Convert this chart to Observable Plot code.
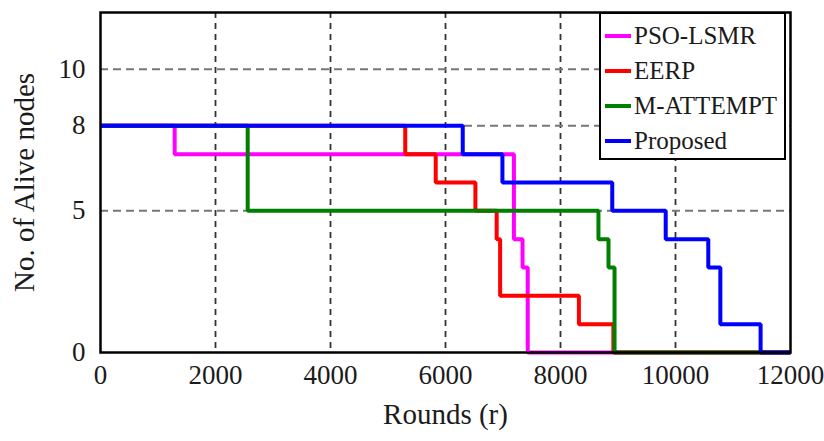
<!DOCTYPE html>
<html>
<head>
<meta charset="utf-8">
<script src="https://cdn.jsdelivr.net/npm/d3@7"></script>
<script src="https://cdn.jsdelivr.net/npm/@observablehq/plot@0.6"></script>
<style>
  html, body { margin: 0; padding: 0; background: #fff; }
  #chart { position: relative; width: 824px; height: 441px; font-family: "Liberation Serif", "Times New Roman", serif; }
  #legend {
    position: absolute; left: 599px; top: 12px; width: 187px; height: 148px;
    border: 2px solid #000; background: #fff; box-sizing: border-box;
    font-size: 25px; color: #1b1b1b;
  }
  #legend .row { position: absolute; left: 4px; height: 30px; display: flex; align-items: center; }
  #legend .sw { width: 26px; height: 4px; margin-right: 3px; }
</style>
</head>
<body>
<div id="chart"></div>
<script>
// Alive nodes over simulation rounds for each protocol (step functions)
const seriesNames = ["PSO-LSMR", "EERP", "M-ATTEMPT", "Proposed"];
const seriesColors = ["#ff00ff", "#ff0000", "#008000", "#0000ff"];

const psoRounds = [0, 1290, 7190, 7340, 7430, 12000];
const psoAlive  = [8, 7, 4, 3, 0, 0];

const eerpRounds = [0, 5300, 5830, 6520, 6890, 6950, 8320, 8920, 12000];
const eerpAlive  = [8, 7, 6, 5, 4, 2, 1, 0, 0];

const attemptRounds = [0, 2560, 8660, 8835, 8940, 12000];
const attemptAlive  = [8, 5, 4, 3, 0, 0];

const proposedRounds = [0, 6300, 6990, 8900, 9830, 10570, 10780, 11480, 12000];
const proposedAlive  = [8, 7, 6, 5, 4, 3, 1, 0, 0];

const xTicks = [0, 2000, 4000, 6000, 8000, 10000, 12000];
const yTicks = [0, 5, 8, 10];
const xGrid = [2000, 4000, 6000, 8000, 10000];
const yGrid = [5, 8, 10];

const roundsBySeries = [psoRounds, eerpRounds, attemptRounds, proposedRounds];
const aliveBySeries = [psoAlive, eerpAlive, attemptAlive, proposedAlive];

const rows = seriesNames.flatMap((name, i) =>
  roundsBySeries[i].map((r, j) => ({series: name, rounds: r, alive: aliveBySeries[i][j]}))
);

const plot = Plot.plot({
  width: 824,
  height: 441,
  marginLeft: 100,
  marginRight: 34,
  marginTop: 12,
  marginBottom: 89,
  style: {fontFamily: "Liberation Serif, Times New Roman, serif", fontSize: "27px", color: "#1b1b1b", background: "#fff"},
  x: {domain: [0, 12000]},
  y: {domain: [0, 12]},
  color: {domain: seriesNames, range: seriesColors},
  marks: [
    Plot.gridX(xGrid, {stroke: "#333", strokeOpacity: 1, strokeWidth: 1.8, strokeDasharray: "6,5"}),
    Plot.gridY(yGrid, {stroke: "#777", strokeOpacity: 1, strokeWidth: 2, strokeDasharray: "8,5"}),
    Plot.axisX(xTicks, {tickSize: 0, tickPadding: 12, tickFormat: d3.format("d"), label: null}),
    Plot.axisY(yTicks, {tickSize: 0, tickPadding: 15, tickFormat: d3.format("d"), label: null}),
    ...seriesNames.map(name =>
      Plot.line(rows.filter(d => d.series === name), {
        x: "rounds", y: "alive", stroke: "series", strokeWidth: 4,
        curve: "step-after", strokeLinejoin: "miter", strokeLinecap: "butt"
      })
    ),
    Plot.frame({stroke: "#000", strokeWidth: 2.5}),
    Plot.text(["No. of Alive nodes"], {frameAnchor: "left", textAnchor: "middle", rotate: -90, dx: -76, fontSize: 29, fill: "#1b1b1b"}),
    Plot.text(["Rounds (r)"], {frameAnchor: "bottom", textAnchor: "middle", dy: 71, fontSize: 29, fill: "#1b1b1b"})
  ]
});

const chart = document.getElementById("chart");
chart.appendChild(plot);

// Legend box in the upper right corner of the plot area
const legend = document.createElement("div");
legend.id = "legend";
seriesNames.forEach((name, i) => {
  const row = document.createElement("div");
  row.className = "row";
  row.style.top = (7 + i * 35) + "px";
  const sw = document.createElement("span");
  sw.className = "sw";
  sw.style.background = seriesColors[i];
  const label = document.createElement("span");
  label.textContent = name;
  row.appendChild(sw);
  row.appendChild(label);
  legend.appendChild(row);
});
chart.appendChild(legend);
</script>
</body>
</html>
